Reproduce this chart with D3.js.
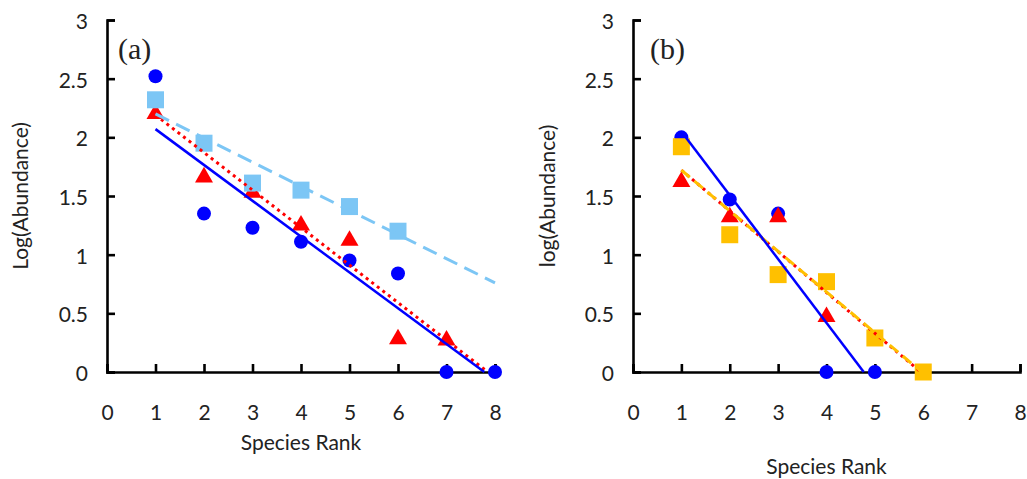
<!DOCTYPE html>
<html>
<head>
<meta charset="utf-8">
<script src="https://cdn.jsdelivr.net/npm/d3@7"></script>
<style>
  body { margin: 0; background: #fff; }
  svg text { fill: #222; }
</style>
</head>
<body>
<div id="chart"></div>
<script>
// tick labels
const xTicks = [0, 1, 2, 3, 4, 5, 6, 7, 8];
const yTicks = [0, 0.5, 1, 1.5, 2, 2.5, 3];

// panel (a) values
const circlesA = [[1, 2.52], [2, 1.35], [3, 1.23], [4, 1.11], [5, 0.95], [6, 0.84], [7, 0], [8, 0]];
const trianglesA = [[1, 2.2], [2, 1.66], [3, 1.53], [4, 1.25], [5, 1.12], [6, 0.28], [7, 0.27]];
const squaresA = [[1, 2.32], [2, 1.95], [3, 1.61], [4, 1.55], [5, 1.41], [6, 1.2]];
const circleFitA = [[1, 2.07], [7.78, 0]];
const triangleFitA = [[1, 2.19], [7.85, 0]];
const squareFitA = [[1, 2.2], [8, 0.76]];

// panel (b)
const circlesB = [[1, 2.0], [2, 1.47], [3, 1.35], [4, 0], [5, 0]];
const trianglesB = [[1, 1.62], [2, 1.32], [3, 1.32], [4, 0.47]];
const squaresB = [[1, 1.92], [2, 1.17], [3, 0.83], [4, 0.77], [5, 0.29], [6, 0]];
const circleFitB = [[1, 2.05], [4.77, 0]];
const triangleFitB = [[1, 1.72], [5.95, 0]];
const squareFitB = [[1, 1.72], [5.97, 0]];

const width = 1027, height = 479;
const sans = 'Lato, "Noto Sans", sans-serif';

const svg = d3.select('#chart')
    .append('svg')
    .attr('width', width)
    .attr('height', height);

const triangle = d3.symbol().type(d3.symbolTriangle).size(140);
const square = d3.symbol().type(d3.symbolSquare).size(289);

const drawPanel = p => {
    const x = d3.scaleLinear().domain([0, 8]).range([p.left, p.right]);
    const y = d3.scaleLinear().domain([0, 3]).range([372, 20]);

    const g = svg.append('g');

    // axes, ticks pointing inward
    const yAxis = g.append('g')
        .attr('transform', `translate(${p.left},0)`)
        .call(d3.axisLeft(y).tickValues(yTicks).tickSize(-8).tickPadding(19).tickFormat(d3.format('~g')));
    const xAxis = g.append('g')
        .attr('transform', 'translate(0,372)')
        .call(d3.axisBottom(x).tickValues(xTicks).tickSize(-8).tickPadding(33).tickFormat(d3.format('d')));
    [xAxis, yAxis].forEach(a => {
        a.selectAll('path, line').attr('stroke', '#000').attr('stroke-width', 2.6);
        a.selectAll('text').attr('font-size', 21).style('font-family', sans).attr('fill', '#222');
    });
    yAxis.selectAll('text').attr('dy', '0.4em');

    g.append('text')
        .attr('transform', `translate(${p.yLabelX},196) rotate(-90)`)
        .attr('text-anchor', 'middle')
        .attr('font-size', 21)
        .style('font-family', sans)
        .text(p.yLabel);
    g.append('text')
        .attr('x', (p.left + p.right) / 2)
        .attr('y', p.xLabelY)
        .attr('text-anchor', 'middle')
        .attr('font-size', 21)
        .style('font-family', sans)
        .text('Species Rank');
    g.append('text')
        .attr('x', p.left + p.titleDx)
        .attr('y', 59)
        .style('font-family', '"Liberation Serif", "Times New Roman", serif')
        .attr('font-size', 30)
        .text(p.title);

    // markers: circles, then triangles, then squares
    g.append('g').selectAll('circle')
        .data(p.circles)
        .join('circle')
        .attr('cx', d => x(d[0]))
        .attr('cy', d => y(d[1]))
        .attr('r', 7)
        .attr('fill', '#0000ff');
    g.append('g').selectAll('path')
        .data(p.triangles)
        .join('path')
        .attr('d', triangle)
        .attr('transform', d => `translate(${x(d[0])},${y(d[1])})`)
        .attr('fill', '#ff0000');
    g.append('g').selectAll('path')
        .data(p.squares)
        .join('path')
        .attr('d', square)
        .attr('transform', d => `translate(${x(d[0])},${y(d[1])})`)
        .attr('fill', p.squareColor);

    // trend lines (red dots sit under the dashed line)
    const line = d3.line().x(d => x(d[0])).y(d => y(d[1]));
    g.append('path').datum(p.triangleFit)
        .attr('d', line).attr('fill', 'none')
        .attr('stroke', '#ff0000').attr('stroke-width', 3)
        .attr('stroke-dasharray', '3 4');
    g.append('path').datum(p.squareFit)
        .attr('d', line).attr('fill', 'none')
        .attr('stroke', p.squareColor).attr('stroke-width', 3)
        .attr('stroke-dasharray', p.squareDash);
    g.append('path').datum(p.circleFit)
        .attr('d', line).attr('fill', 'none')
        .attr('stroke', '#0000ff').attr('stroke-width', 2.5);
};

drawPanel({
    left: 107, right: 495, yLabelX: 28, xLabelY: 450, titleDx: 11,
    title: '(a)', yLabel: 'Log(Abundance)',
    circles: circlesA, triangles: trianglesA, squares: squaresA,
    circleFit: circleFitA, triangleFit: triangleFitA, squareFit: squareFitA,
    squareColor: '#7cc6f5', squareDash: '15 8'
});

drawPanel({
    left: 633, right: 1020, yLabelX: 555, xLabelY: 474, titleDx: 17,
    title: '(b)', yLabel: 'log(Abundance)',
    circles: circlesB, triangles: trianglesB, squares: squaresB,
    circleFit: circleFitB, triangleFit: triangleFitB, squareFit: squareFitB,
    squareColor: '#ffc000', squareDash: '11 6'
});
</script>
</body>
</html>
